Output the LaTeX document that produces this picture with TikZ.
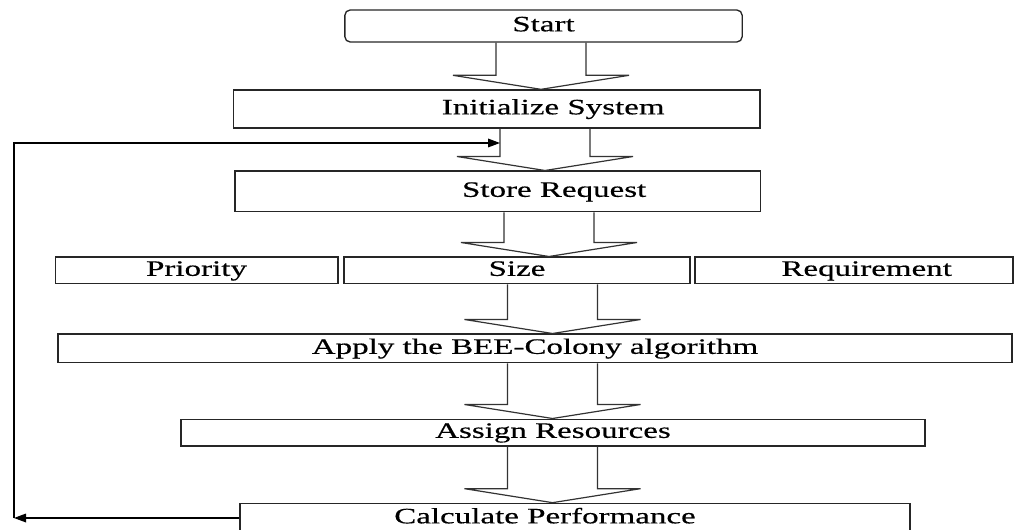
\documentclass[tikz,border=0pt]{standalone}
\usepackage{fontspec}
\setmainfont{Liberation Serif}[FakeStretch=1.5, FakeBold=0.5]
\usetikzlibrary{arrows.meta, positioning, calc}

% hollow block arrow from one box down to the next, centred on a coordinate
\newcommand{\hollowarrow}[3]{%
  \draw[hollow] ($(#3 |- #1.south)+(-45,0)$) -- ($(#3 |- #2.north)+(-45,-14)$)
    -- ($(#3 |- #2.north)+(-88,-14)$) -- (#3 |- #2.north)
    -- ($(#3 |- #2.north)+(88,-14)$) -- ($(#3 |- #2.north)+(45,-14)$)
    -- ($(#3 |- #1.south)+(45,0)$);}

\begin{document}
\begin{tikzpicture}[
  x=0.75pt, y=-0.75pt,
  box/.style = {draw=black!85, line width=1pt, inner sep=0pt, align=center,
                text height=11pt, text depth=3pt,
                font=\fontsize{16.5}{18}\selectfont},
  hollow/.style = {draw=black!80, line width=0.9pt, line join=miter},
  arrow/.style = {line width=0.9pt, -{Triangle[length=9pt, width=6.5pt]}}
]
  \useasboundingbox (0,0) rectangle (1016,530);

  % Start
  \node[box, rounded corners=4pt, minimum width=298pt, minimum height=24pt] (start) at (543.5,26) {Start};

  % Initialize
  \node[box, minimum width=395pt, minimum height=28.5pt] (init) at (496.5,109) {\hspace*{85pt}Initialize System};

  % Store request
  \node[box, minimum width=394pt, minimum height=30.5pt] (store) at (497.5,191.5) {\hspace*{85pt}Store Request};

  % Request attributes
  \node[box, minimum width=212pt, minimum height=20pt] (prio) at (196.5,270.5) {Priority};
  \node[box, minimum width=259.5pt, minimum height=20pt] (size) at (517,270.5) {Size};
  \node[box, minimum width=238.5pt, minimum height=20pt] (req) at (854,270.5) {\hspace*{19pt}Requirement};

  % Algorithm
  \node[box, minimum width=715.5pt, minimum height=21.5pt] (apply) at (535,348.5) {Apply the BEE-Colony algorithm};

  % Resources
  \node[box, minimum width=558pt, minimum height=20pt] (assign) at (553,432.5) {Assign Resources};

  % Performance
  \node[box, minimum width=502.5pt, minimum height=22pt] (calc) at (575,518) {Calculate Performance\hspace*{45pt}};

  % arrow centres
  \coordinate (a1) at (541,0);
  \coordinate (a2) at (545,0);
  \coordinate (a3) at (549,0);
  \coordinate (a4) at (552.5,0);

  \hollowarrow{start}{init}{a1}
  \hollowarrow{init}{store}{a2}
  \hollowarrow{store}{size}{a3}
  \hollowarrow{size}{apply}{a4}
  \hollowarrow{apply}{assign}{a4}
  \hollowarrow{assign}{calc}{a4}

  % feedback loop
  \coordinate (loopx) at (14,0);
  \coordinate (loopin) at ($(a2)+(-45,143)$);
  \draw[arrow] (calc.west) -- (calc.west -| loopx);
  \draw[arrow] (loopx |- calc.west) |- (loopin);

\end{tikzpicture}
\end{document}
